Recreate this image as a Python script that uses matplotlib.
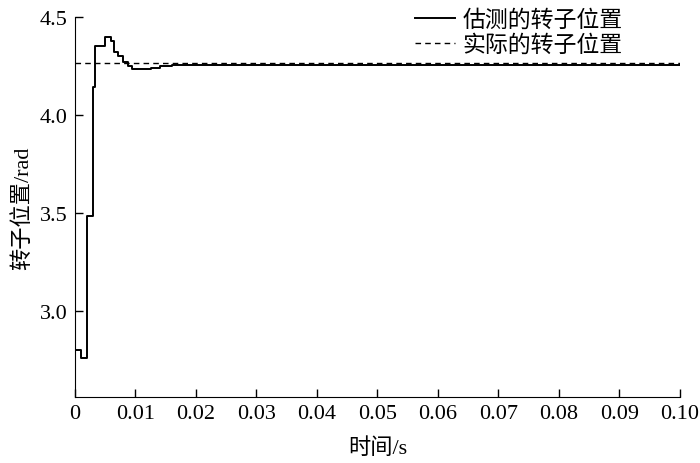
import matplotlib.pyplot as plt

plt.rcParams['font.family'] = ['Liberation Serif', 'Noto Sans CJK SC']
plt.rcParams['axes.unicode_minus'] = False

# estimated rotor position (step output)
t_est = [0.0, 0.001, 0.002, 0.003, 0.0034, 0.005, 0.0059, 0.0065, 0.0072,
         0.008, 0.0088, 0.0095, 0.0126, 0.014, 0.016, 0.02, 0.05, 0.1]
pos_est = [2.80, 2.76, 3.485, 4.145, 4.35, 4.40, 4.38, 4.32, 4.30,
           4.27, 4.25, 4.235, 4.24, 4.25, 4.255, 4.256, 4.258, 4.26]

# actual rotor position
t_act = [0.0, 0.1]
pos_act = [4.265, 4.265]

xticks = [0, 0.01, 0.02, 0.03, 0.04, 0.05, 0.06, 0.07, 0.08, 0.09, 0.10]
xlabels = ['0', '0.01', '0.02', '0.03', '0.04', '0.05', '0.06', '0.07', '0.08', '0.09', '0.10']
yticks = [3.0, 3.5, 4.0, 4.5]

fig = plt.figure(figsize=(7, 4.64), dpi=100)
ax = fig.add_axes([0.107, 0.142, 0.864, 0.819])

ax.plot(t_est, pos_est, color='black', lw=1.4, drawstyle='steps-post', label='估测的转子位置')
ax.plot(t_act, pos_act, color='black', lw=1.0, ls=(0, (4, 3)), label='实际的转子位置')

ax.set_xlim(0, 0.1)
ax.set_ylim(2.56, 4.5)
ax.set_xticks(xticks)
ax.set_xticklabels(xlabels)
ax.set_yticks(yticks)
ax.tick_params(direction='in', labelsize=16, length=6, width=1, pad=5)
for s in ['top', 'right']:
    ax.spines[s].set_visible(False)

ax.set_xlabel('时间/s', fontsize=16, labelpad=10)
ax.set_ylabel('转子位置/rad', fontsize=16, labelpad=5)

ax.legend(loc='upper right', bbox_to_anchor=(0.94, 1.075), frameon=False, fontsize=16.5,
          handlelength=1.75, handletextpad=0.35, labelspacing=0.15)

fig.savefig('out.png', dpi=100)
